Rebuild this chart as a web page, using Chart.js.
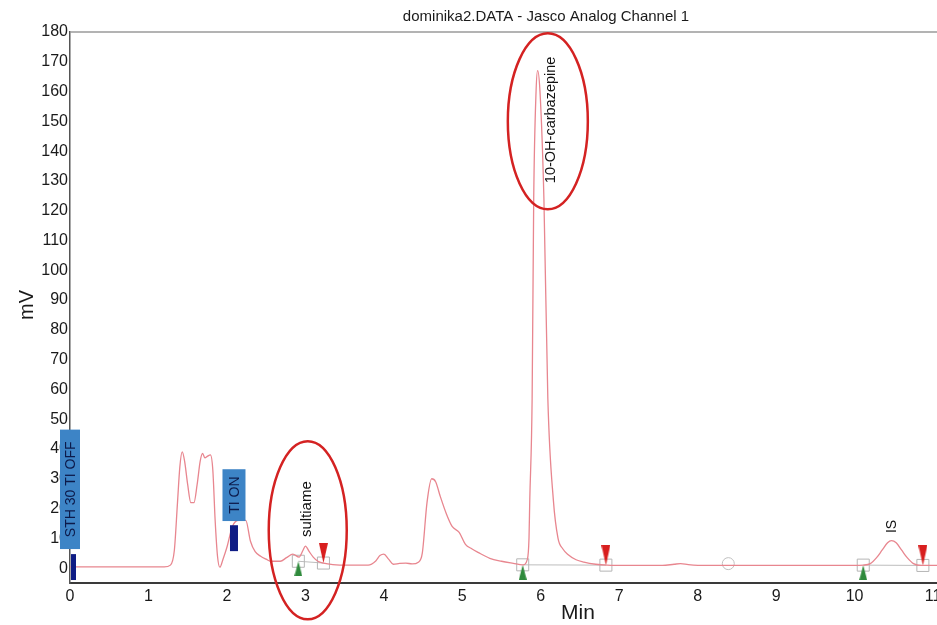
<!DOCTYPE html>
<html>
<head>
<meta charset="utf-8">
<script src="https://cdn.jsdelivr.net/npm/chart.js@4.4.1/dist/chart.umd.min.js"></script>
<style>
  html, body { margin: 0; padding: 0; background: #fff; }
</style>
</head>
<body>
<canvas id="chart" width="937" height="625"></canvas>
<script>
// chromatogram trace (min / mV)
const times = [0, 0.6, 1.2, 1.28, 1.33, 1.37, 1.40, 1.43, 1.46, 1.50, 1.54, 1.58, 1.62, 1.66, 1.69, 1.72, 1.75, 1.79, 1.82, 1.85, 1.88, 1.91,
  1.95, 2.00, 2.07, 2.15, 2.24, 2.30, 2.36, 2.43, 2.50, 2.56, 2.68, 2.76, 2.84, 2.92, 2.97, 3.00, 3.05, 3.10, 3.16, 3.23, 3.35, 3.55,
  3.80, 3.90, 3.95, 4.00, 4.06, 4.12, 4.20, 4.28, 4.36, 4.44, 4.49, 4.55, 4.61, 4.66, 4.72, 4.80, 4.87, 4.96, 5.04, 5.12, 5.20, 5.35,
  5.50, 5.65, 5.77, 5.83, 5.85, 5.86, 5.89, 5.91, 5.94, 5.96, 5.99, 6.04, 6.09, 6.16, 6.22, 6.28, 6.35, 6.45, 6.55, 6.70, 6.85, 7.10,
  7.55, 7.70, 7.78, 7.88, 8.10, 9.00, 10.00, 10.11, 10.20, 10.28, 10.35, 10.42, 10.47, 10.53, 10.60, 10.67, 10.75, 10.85, 11.00, 11.05];
const signal = [0.4, 0.4, 0.4, 1, 6, 22, 34, 39, 36, 28, 22, 22, 28, 36, 38.5, 37, 37.5, 38, 33, 16, 4, 0.3,
  3, 7, 14, 16, 16, 9, 5.5, 4, 3, 2.3, 2.3, 3.5, 4.7, 3.7, 6, 7.4, 5.5, 3.7, 2.3, 1.7, 1.2, 1,
  1, 2.5, 4.2, 4.7, 3, 1.3, 1.6, 1.7, 1.4, 2, 5, 22, 30, 29, 24, 18, 14, 12, 8, 6.5, 5.3, 3.3,
  2.3, 1.6, 1.1, 3, 10, 23, 57, 124, 160, 167, 160, 124, 57, 23, 10, 6.5, 4.5, 2.8, 2, 1.3, 1, 0.9,
  0.9, 1.3, 1.5, 1.2, 0.9, 0.9, 0.9, 1.0, 1.5, 3.5, 6, 8.5, 9.2, 8.5, 6, 3.5, 1.5, 0.9, 0.9, 0.9];

// integrated peaks
const peakNames = ['sultiame', '10-OH-carbazepine', 'IS'];
const peakApex = [3.01, 5.96, 10.46];
const peakStart = [2.91, 5.77, 10.11];
const peakEnd = [3.23, 6.83, 10.87];
const startLevel = [2.3, 1.1, 1.0];
const endLevel = [1.7, 1.0, 0.9];
const markerTime = [8.39];
const markerLevel = [1.5];

// timed events
const eventNames = ['STH 30 TI OFF', 'TI ON'];
const eventTimes = [0.0, 2.09];

const xTicks = [0, 1, 2, 3, 4, 5, 6, 7, 8, 9, 10, 11];

const FONT = '"Liberation Sans", Arial, sans-serif';

function triangle(w, h, color, down) {
  // tip sits on the canvas centre so the point value is the baseline
  const c = document.createElement('canvas');
  c.width = w; c.height = h * 2;
  const g = c.getContext('2d');
  g.fillStyle = color;
  g.beginPath();
  if (down) {
    g.moveTo(0, 0); g.lineTo(w, 0); g.lineTo(w / 2, h);
  } else {
    g.moveTo(w / 2, h); g.lineTo(w, h * 2); g.lineTo(0, h * 2);
  }
  g.closePath();
  g.fill();
  return c;
}

const trace = times.map((t, i) => ({ x: t, y: signal[i] }));
const baseSegs = [];
peakStart.forEach((t, i) => {
  baseSegs.push({ x: t, y: startLevel[i] }, { x: peakEnd[i], y: endLevel[i] }, { x: peakEnd[i] + 0.01, y: null });
});
const starts = peakStart.map((t, i) => ({ x: t, y: startLevel[i] }));
const ends = peakEnd.map((t, i) => ({ x: t, y: endLevel[i] }));

const decor = {
  id: 'decor',
  afterDatasetsDraw(chart) {
    const ctx = chart.ctx;
    const xs = chart.scales.x, ys = chart.scales.y;
    const px = v => xs.getPixelForValue(v);
    const py = v => ys.getPixelForValue(v);
    const area = chart.chartArea;
    ctx.save();

    // top frame line
    ctx.strokeStyle = '#9a9a9a';
    ctx.lineWidth = 1.5;
    ctx.beginPath();
    ctx.moveTo(area.left, area.top);
    ctx.lineTo(area.right, area.top);
    ctx.stroke();

    ctx.fillStyle = '#1a1a1a';
    ctx.textAlign = 'center';
    ctx.textBaseline = 'middle';
    ctx.font = '15px ' + FONT;
    ctx.fillText('dominika2.DATA - Jasco Analog Channel 1', 546, 17);
    ctx.font = '21px ' + FONT;
    ctx.fillText('Min', 578, 613);
    ctx.save();
    ctx.translate(27, 305);
    ctx.rotate(-Math.PI / 2);
    ctx.font = '20px ' + FONT;
    ctx.fillText('mV', 0, 0);
    ctx.restore();

    // event flags
    const boxes = [
      { top: 46.5, bottom: 6.4, w: 20, barTop: 4.7, barBottom: -4, barW: 5 },
      { top: 33.2, bottom: 15.8, w: 23, barTop: 14.4, barBottom: 5.7, barW: 8 }
    ];
    eventNames.forEach((name, i) => {
      const b = boxes[i];
      const cx = px(eventTimes[i]);
      const y0 = py(b.top), y1 = py(b.bottom);
      ctx.fillStyle = '#3d84c6';
      ctx.fillRect(cx - b.w / 2, y0, b.w, y1 - y0);
      ctx.fillStyle = '#0f1d85';
      const bx = i === 0 ? cx + 1 : cx - b.barW / 2;
      ctx.fillRect(bx, py(b.barTop), b.barW, py(b.barBottom) - py(b.barTop));
      ctx.save();
      ctx.translate(cx, (y0 + y1) / 2);
      ctx.rotate(-Math.PI / 2);
      ctx.fillStyle = '#0c1a4a';
      ctx.font = '14px ' + FONT;
      ctx.fillText(name, 0, 1);
      ctx.restore();
    });

    // peak names
    const nameLevel = [19.8, 150.5, 14];
    const nameSize = [15, 14.5, 14];
    peakNames.forEach((name, i) => {
      ctx.save();
      ctx.translate(px(peakApex[i]) + (i === 1 ? 13 : 1), py(nameLevel[i]));
      ctx.rotate(-Math.PI / 2);
      ctx.fillStyle = '#111';
      ctx.font = nameSize[i] + 'px ' + FONT;
      ctx.fillText(name, 0, 0);
      ctx.restore();
    });

    // hand-drawn red ellipses
    ctx.strokeStyle = '#d42222';
    ctx.lineWidth = 2.5;
    ctx.beginPath();
    ctx.ellipse(px(3.03), py(12.7), 39, 89, 0, 0, Math.PI * 2);
    ctx.stroke();
    ctx.beginPath();
    ctx.ellipse(px(6.09), py(150), 40, 88, 0, 0, Math.PI * 2);
    ctx.stroke();

    ctx.restore();
  }
};

new Chart(document.getElementById('chart'), {
  type: 'scatter',
  data: {
    datasets: [
      {
        data: trace, showLine: true, borderColor: '#e8868f', borderWidth: 1.3,
        pointRadius: 0, cubicInterpolationMode: 'monotone', fill: false
      },
      {
        data: starts, showLine: false, pointStyle: triangle(8, 15, '#2f8a3c', false), pointRadius: 6
      },
      {
        data: ends, showLine: false, pointStyle: triangle(9, 20, '#d81e1e', true), pointRadius: 6
      },
      {
        data: starts.concat(ends), showLine: false, pointStyle: 'rect', pointRadius: 8.5,
        borderColor: '#b5b5b5', backgroundColor: 'rgba(0,0,0,0)', borderWidth: 1
      },
      {
        data: markerTime.map((t, i) => ({ x: t, y: markerLevel[i] })), showLine: false, pointStyle: 'circle',
        pointRadius: 6, borderColor: '#c0c0c0', backgroundColor: 'rgba(0,0,0,0)', borderWidth: 1
      },
      {
        data: baseSegs, showLine: true, spanGaps: false, borderColor: '#bdbdbd', borderWidth: 1, pointRadius: 0
      }
    ]
  },
  options: {
    responsive: false,
    animation: false,
    layout: { autoPadding: false, padding: { top: 32, right: 0, left: 0, bottom: 0 } },
    plugins: { legend: { display: false }, tooltip: { enabled: false }, title: { display: false } },
    scales: {
      x: {
        type: 'linear', min: 0, max: 11.05,
        afterBuildTicks: s => { s.ticks = xTicks.map(v => ({ value: v })); },
        afterFit: s => { s.height = 42; s.paddingRight = 0; s.paddingLeft = 0; },
        grid: { display: false, drawTicks: false },
        border: { display: true, color: '#3a3a3a', width: 2 },
        ticks: { color: '#1a1a1a', padding: 4, maxRotation: 0, font: { size: 16, family: FONT } }
      },
      y: {
        type: 'linear', min: -5, max: 180,
        afterBuildTicks: s => {
          const t = [];
          for (let v = 0; v <= 180; v += 10) t.push({ value: v });
          s.ticks = t;
        },
        afterFit: s => { s.width = 70; },
        grid: { display: false, drawTicks: false },
        border: { display: true, color: '#555', width: 1.5 },
        ticks: { color: '#1a1a1a', padding: 2, font: { size: 16, family: FONT } }
      }
    }
  },
  plugins: [decor]
});
</script>
</body>
</html>
